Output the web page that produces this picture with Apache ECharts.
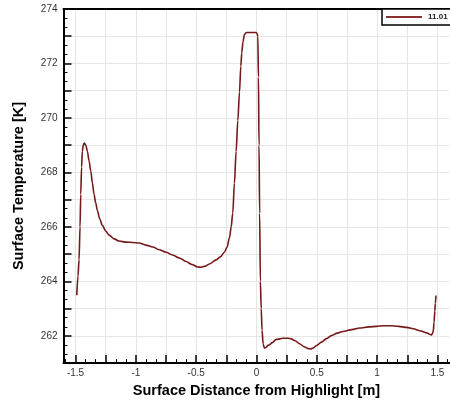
<!DOCTYPE html>
<html><head><meta charset="utf-8">
<script src="https://cdn.jsdelivr.net/npm/echarts@6/dist/echarts.min.js"></script>
<style>html,body{margin:0;padding:0;background:#fff}#c{width:450px;height:403px}</style>
</head><body><div id="c"></div>
<script>
var seriesName = '11.01';
var distance = [-1.490,-1.480,-1.471,-1.463,-1.457,-1.450,-1.444,-1.435,-1.427,-1.415,-1.402,-1.388,-1.374,-1.360,-1.347,-1.333,-1.319,-1.300,-1.278,-1.250,-1.222,-1.180,-1.139,-1.080,-1.028,-0.973,-0.917,-0.860,-0.806,-0.750,-0.696,-0.640,-0.584,-0.535,-0.488,-0.460,-0.432,-0.385,-0.335,-0.300,-0.266,-0.245,-0.224,-0.210,-0.197,-0.183,-0.169,-0.155,-0.141,-0.130,-0.122,-0.112,-0.100,-0.086,-0.072,-0.040,-0.003,0.007,0.011,0.016,0.021,0.026,0.032,0.039,0.046,0.055,0.066,0.080,0.095,0.108,0.130,0.164,0.219,0.260,0.288,0.320,0.357,0.395,0.427,0.450,0.468,0.500,0.538,0.580,0.621,0.670,0.717,0.790,0.856,0.930,0.995,1.050,1.106,1.180,1.244,1.300,1.355,1.410,1.440,1.452,1.460,1.466,1.472,1.478,1.483,1.488];
var temperature = [263.49,264.2,264.79,266.0,267.2,268.2,268.78,269.02,269.08,269.0,268.78,268.42,268.05,267.6,267.2,266.88,266.6,266.3,266.06,265.85,265.70,265.56,265.48,265.44,265.43,265.41,265.33,265.26,265.16,265.07,264.97,264.86,264.73,264.62,264.53,264.52,264.55,264.65,264.79,264.9,265.07,265.25,265.6,266.0,266.5,267.6,268.78,269.9,270.95,271.9,272.4,272.8,273.06,273.13,273.14,273.14,273.14,273.08,273.0,271.5,269.0,266.5,264.0,263.0,262.2,261.7,261.55,261.58,261.65,261.67,261.75,261.87,261.91,261.91,261.89,261.82,261.71,261.60,261.53,261.52,261.55,261.65,261.77,261.90,262.01,262.10,262.16,262.23,262.29,262.33,262.35,262.37,262.37,262.35,262.31,262.26,262.19,262.11,262.05,262.03,262.10,262.2,262.5,262.9,263.2,263.48];
var xMajorTicks = [-1.5,-1.25,-1,-0.75,-0.5,-0.25,0,0.25,0.5,0.75,1,1.25,1.5];
var xTickLabels = [-1.5,-1,-0.5,0,0.5,1,1.5];
var xMinorTicks = [];
for (var i = 0; i < xMajorTicks.length - 1; i++) {
  var a = xMajorTicks[i], step = 0.25 / 3;
  xMinorTicks.push(+(a + step).toFixed(5), +(a + 2 * step).toFixed(5));
}
xMinorTicks.unshift(-1.5 - 0.25/3);
xMinorTicks.push(1.5 + 0.25/3);
var yTickLabels = [262,264,266,268,270,272,274];

var data = distance.map(function (d, i) { return [d, temperature[i]]; });
var FONT = 'Liberation Sans';
var chart = echarts.init(document.getElementById('c'), null, {renderer: 'canvas'});
chart.setOption({
  animation: false,
  backgroundColor: '#fff',
  grid: {left: 63.5, right: 0.5, top: 9, bottom: 35, containLabel: false},
  legend: {
    show: true, left: 382, top: 9, orient: 'horizontal',
    data: [seriesName], icon: 'rect', itemWidth: 36, itemHeight: 2,
    itemGap: 0, padding: [4, 8, 4, 4],
    borderColor: '#000', borderWidth: 1.5, borderRadius: 0, backgroundColor: '#fff',
    textStyle: {fontFamily: FONT, fontSize: 8, fontWeight: 'bold', color: '#222', padding: [0,0,0,1]},
    itemStyle: {color: '#8a3030'}
  },
  xAxis: [{
    type: 'value', min: -1.6, max: 1.6, position: 'bottom',
    name: 'Surface Distance from Highlight [m]', nameLocation: 'middle', nameGap: 19,
    nameTextStyle: {fontFamily: FONT, fontSize: 14.5, fontWeight: 'bold', color: '#000'},
    axisLine: {show: true, onZero: false, lineStyle: {color: '#000', width: 2}},
    axisTick: {show: true, inside: true, length: 8, customValues: xMajorTicks, lineStyle: {color: '#000', width: 1.5}},
    axisLabel: {show: true, customValues: xTickLabels, margin: 5, fontFamily: FONT, fontSize: 10, color: '#333'},
    splitLine: {show: true, lineStyle: {color: '#e6e6e6', width: 1}},
    minorTick: {show: false}
  }, {
    type: 'value', min: -1.6, max: 1.6, position: 'bottom',
    axisLine: {show: false, onZero: false},
    axisTick: {show: true, inside: true, length: 4, customValues: xMinorTicks, lineStyle: {color: '#000', width: 1}},
    axisLabel: {show: false},
    splitLine: {show: false}
  }, {
    type: 'value', min: -1.6, max: 1.6, position: 'top',
    axisLine: {show: true, onZero: false, lineStyle: {color: '#000', width: 2}},
    axisTick: {show: false}, axisLabel: {show: false}, splitLine: {show: false}
  }],
  yAxis: {
    type: 'value', min: 261, max: 274, interval: 1,
    name: 'Surface Temperature [K]', nameLocation: 'middle', nameGap: 37,
    nameTextStyle: {fontFamily: FONT, fontSize: 14.5, fontWeight: 'bold', color: '#000'},
    axisLine: {show: true, onZero: false, lineStyle: {color: '#000', width: 2}},
    axisTick: {show: true, inside: true, length: 8, lineStyle: {color: '#000', width: 1.5}},
    minorTick: {show: true, splitNumber: 3, length: 4, lineStyle: {color: '#000', width: 1}},
    axisLabel: {
      margin: 6, fontFamily: FONT, fontSize: 10, color: '#333',
      formatter: function (v) { return yTickLabels.indexOf(v) >= 0 ? String(v) : ''; }
    },
    splitLine: {show: true, lineStyle: {color: '#e6e6e6', width: 1}}
  },
  series: [{
    name: seriesName, type: 'line', xAxisIndex: 0, data: data,
    showSymbol: false, symbol: 'none', smooth: 0.3, smoothMonotone: 'x',
    lineStyle: {color: '#741818', width: 1.6}, itemStyle: {color: '#741818'}
  }]
});
</script></body></html>
